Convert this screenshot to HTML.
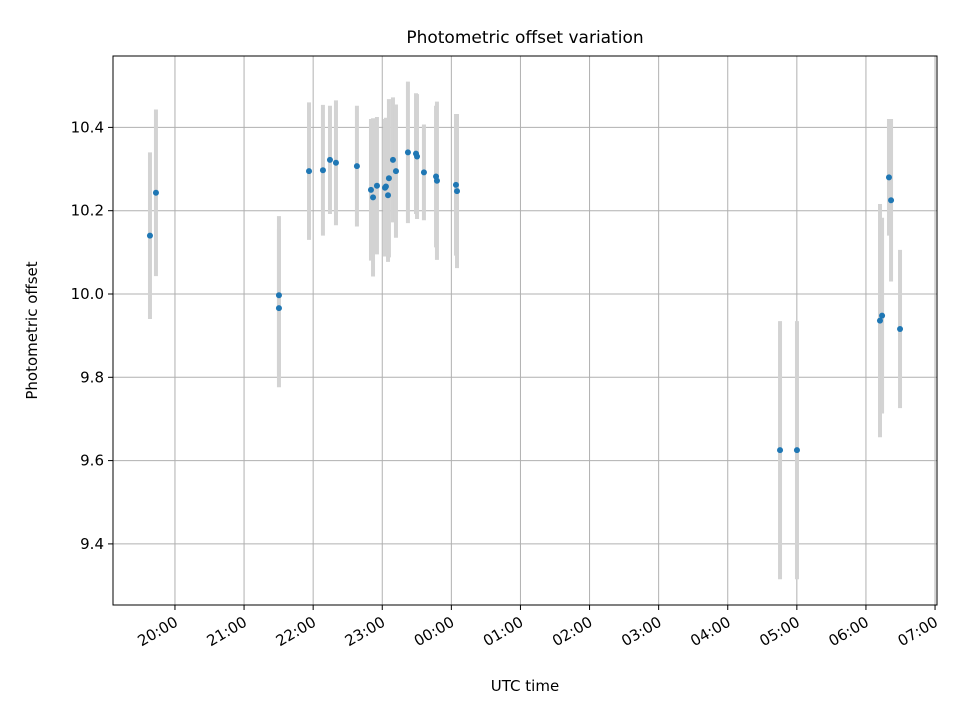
<!DOCTYPE html>
<html><head><meta charset="utf-8"><style>
body{margin:0;background:#fff;font-family:"Liberation Sans","DejaVu Sans",sans-serif}
</style></head><body>
<svg id="chart" width="960" height="720" xmlns="http://www.w3.org/2000/svg" font-family="DejaVu Sans, Liberation Sans, sans-serif"></svg>
<script>
const times=[-21.7,-16.5,90.3,90.3,116.4,128.5,134.6,139.8,158,170.2,172,175.4,182.4,183.2,185,185.8,189.3,191.9,202.3,209.3,210.2,216.2,226.7,227.5,244,244.9,525.4,540.1,612.2,614,620,621.8,629.6];
const values=[10.14,10.243,9.997,9.966,10.295,10.297,10.322,10.315,10.307,10.25,10.232,10.26,10.255,10.258,10.237,10.278,10.322,10.295,10.34,10.337,10.33,10.292,10.282,10.272,10.262,10.247,9.625,9.625,9.936,9.948,10.28,10.225,9.916];
const errors=[0.2,0.2,0.19,0.19,0.165,0.157,0.13,0.15,0.145,0.17,0.19,0.165,0.165,0.165,0.16,0.19,0.15,0.16,0.17,0.145,0.15,0.115,0.17,0.19,0.17,0.185,0.31,0.31,0.28,0.235,0.14,0.195,0.19];
const xTickMins=[0,60,120,180,240,300,360,420,480,540,600,660];
const xTickLabels=["20:00","21:00","22:00","23:00","00:00","01:00","02:00","03:00","04:00","05:00","06:00","07:00"];
const yTicks=[9.4,9.6,9.8,10.0,10.2,10.4];
const yTickLabels=["9.4","9.6","9.8","10.0","10.2","10.4"];

const L=113,R=937,T=56,B=605;
const xMin=-53.8,xMax=661.7,yMin=9.2533,yMax=10.5714;
const X=m=>L+(m-xMin)/(xMax-xMin)*(R-L);
const Y=v=>B-(v-yMin)/(yMax-yMin)*(B-T);
const svg=document.getElementById('chart');
const NS='http://www.w3.org/2000/svg';
function mk(tag,attrs,parent){const e=document.createElementNS(NS,tag);for(const k in attrs)e.setAttribute(k,attrs[k]);(parent||svg).appendChild(e);return e;}

const grid=mk('g',{});


xTickMins.forEach((m,i)=>{
  const x=X(m);
  const gl=mk('line',{x1:x,x2:x,y1:T,y2:B,stroke:'#b0b0b0','stroke-width':1},grid);
  
  
  const tk=mk('line',{x1:x,x2:x,y1:B,y2:B+5,stroke:'#000','stroke-width':1});
  
  
  const t=mk('text',{x:0,y:0,'font-size':15,'text-anchor':'end',transform:`translate(${x+4},${B+20}) rotate(-30)`});
  t.textContent=xTickLabels[i];
  
  
});
yTicks.forEach((v,i)=>{
  const y=Y(v);
  const gl=mk('line',{x1:L,x2:R,y1:y,y2:y,stroke:'#b0b0b0','stroke-width':1},grid);
  
  
  const tk=mk('line',{x1:L-5,x2:L,y1:y,y2:y,stroke:'#000','stroke-width':1});
  
  
  const t=mk('text',{x:L-9,y:y+5,'font-size':15,'text-anchor':'end'});
  t.textContent=yTickLabels[i];
  
  
});
const eb=mk('g',{});


times.forEach((m,i)=>{
  const e=mk('line',{x1:X(m),x2:X(m),y1:Y(values[i]+errors[i]),y2:Y(values[i]-errors[i]),stroke:'#d3d3d3','stroke-width':4},eb);
  
  
});
const pts=mk('g',{});


times.forEach((m,i)=>{
  const c=mk('circle',{cx:X(m),cy:Y(values[i]),r:3,fill:'#1f77b4'},pts);
  
  
});
const frame=mk('rect',{x:L,y:T,width:R-L,height:B-T,fill:'none',stroke:'#000','stroke-width':1});


const title=mk('text',{x:(L+R)/2,y:43,'font-size':17,'text-anchor':'middle'});
title.textContent='Photometric offset variation';


const xl=mk('text',{x:(L+R)/2,y:691,'font-size':15,'text-anchor':'middle'});
xl.textContent='UTC time';


const yl=mk('text',{x:0,y:0,'font-size':15,'text-anchor':'middle',transform:`translate(37,${(T+B)/2}) rotate(-90)`});
yl.textContent='Photometric offset';


</script>
</body></html>
